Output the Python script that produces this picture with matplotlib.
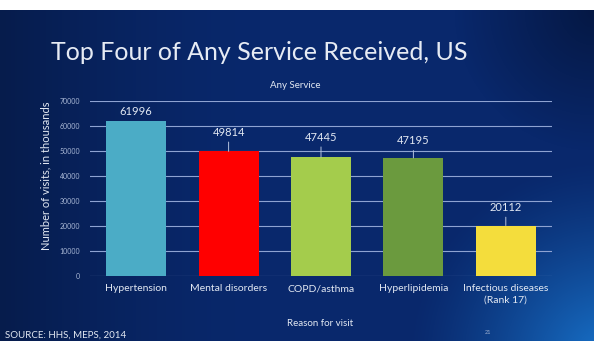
import numpy as np
import matplotlib.pyplot as plt

# Data: visits by reason, in thousands
categories = ["Hypertension", "Mental disorders", "COPD/asthma", "Hyperlipidemia",
              "Infectious diseases\n(Rank 17)"]
visits = [61996, 49814, 47445, 47195, 20112]
yticks = [0, 10000, 20000, 30000, 40000, 50000, 60000, 70000]

bar_colors = ["#4bacc6", "#ff0000", "#a4cc4c", "#6b9a3e", "#f4dd3c"]
label_lift = [9, 19, 20, 17, 18]  # px above bar top for value labels

W, H = 594, 341
plt.rcParams["font.family"] = ["Lato", "DejaVu Sans"]

fig = plt.figure(figsize=(W / 100, H / 100), dpi=100, facecolor="white")

# slide background: navy with a lighter glow in the lower right
bg = fig.add_axes([0, 0, 1, 1 - 10 / H])
bg.axis("off")
h, w = 331, 594
yy, xx = np.mgrid[0:h, 0:w]
base = np.array([9, 40, 108]) / 255.0
img = np.ones((h, w, 3)) * base
# darker left edge and top-right corner
left = np.clip(1 - xx / 260.0, 0, 1) ** 1.5
img -= left[..., None] * np.array([3, 12, 32]) / 255.0
tr = np.clip(1 - np.hypot(xx - w, yy) / 140.0, 0, 1)
img -= tr[..., None] * np.array([4, 16, 40]) / 255.0
# glow bottom right
d = np.hypot(xx - w * 1.02, yy - h * 1.05)
glow = np.clip(1 - d / 200.0, 0, 1) ** 1.3
img += glow[..., None] * np.array([15, 75, 95]) / 255.0
bg.imshow(np.clip(img, 0, 1), aspect="auto", extent=[0, 1, 0, 1])
bg.set_xlim(0, 1)
bg.set_ylim(0, 1)

ax = fig.add_axes([90 / W, 65.3 / H, 462 / W, 174.7 / H])
ax.patch.set_alpha(0)
x = np.arange(len(categories))
ax.bar(x, visits, width=0.65, color=bar_colors, zorder=3)
ax.set_xlim(-0.5, len(categories) - 0.5)
ax.set_ylim(0, 70000)
ax.set_yticks(yticks)
ax.set_yticklabels([str(v) for v in yticks], fontsize=5, color="#a9b8d6")
ax.set_xticks(x)
ax.set_xticklabels(categories, fontsize=7.5, color="#e3e9f3", linespacing=1.3)
ax.tick_params(axis="y", length=0, pad=7)
ax.tick_params(axis="x", length=0, pad=6)
ax.grid(axis="y", color="#8ea3d2", linewidth=0.8, zorder=0)
for s in ax.spines.values():
    s.set_visible(False)

for xi, v, lift in zip(x, visits, label_lift):
    arrow = dict(arrowstyle="-", color="#b4c2dd", lw=0.7, shrinkA=1, shrinkB=0) if lift > 12 else None
    ax.annotate(str(v), xy=(xi, v), xytext=(0, lift), textcoords="offset pixels",
                ha="center", va="center", fontsize=8, color="#e3e9f3",
                arrowprops=arrow, zorder=4)

fig.text(51 / W, 1 - 60 / H, "Top Four of Any Service Received, US", fontsize=18,
         color="#e6ebf4", ha="left", va="baseline")
fig.text(295 / W, 1 - 86 / H, "Any Service", fontsize=7, color="#e3e9f3",
         ha="center", va="center")
fig.text(46 / W, 1 - 176 / H, "Number of visits, in thousands", fontsize=8,
         color="#e3e9f3", rotation=90, ha="center", va="center")
fig.text(320 / W, 1 - 323 / H, "Reason for visit", fontsize=7, color="#e3e9f3",
         ha="center", va="center")
fig.text(488 / W, 1 - 332 / H, "21", fontsize=4, color="#9fb0d0",
         ha="center", va="center")
fig.text(5 / W, 1 - 335 / H, "SOURCE: HHS, MEPS, 2014", fontsize=7,
         color="#e3e9f3", ha="left", va="center")

fig.savefig("out.png", dpi=100, facecolor="white")
